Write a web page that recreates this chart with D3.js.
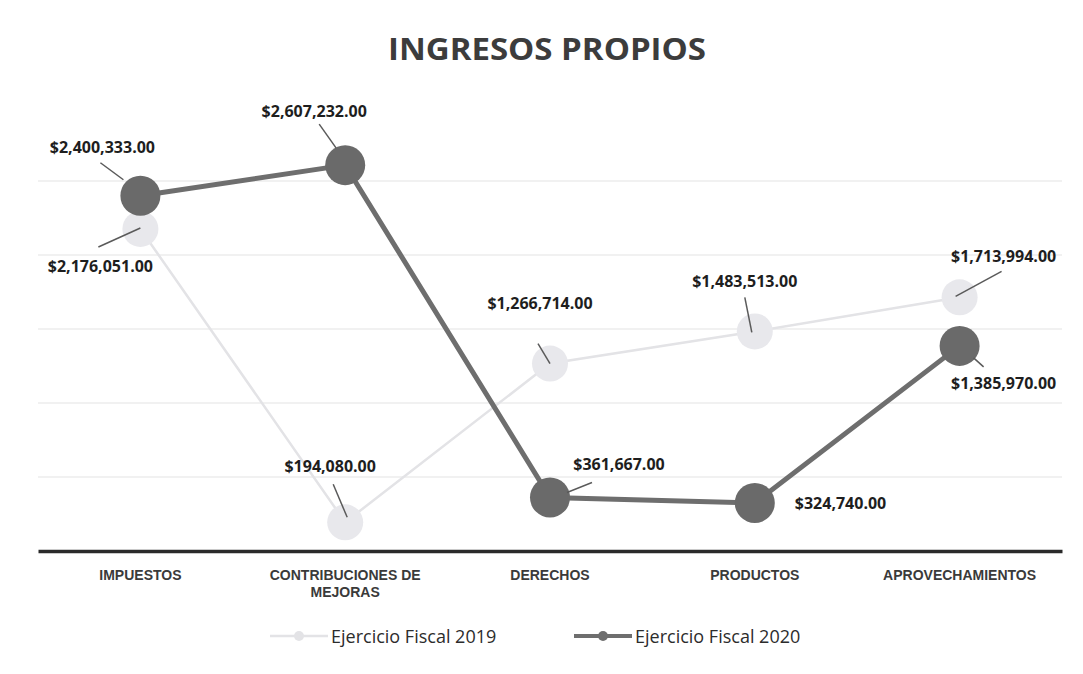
<!DOCTYPE html>
<html><head><meta charset="utf-8">
<script src="https://cdn.jsdelivr.net/npm/d3@7"></script>
<style>body{margin:0;background:#fff}svg{display:block}</style>
</head><body>
<svg id="c" width="1083" height="674"></svg>
<script>
const categories = ["IMPUESTOS", "CONTRIBUCIONES DE MEJORAS", "DERECHOS", "PRODUCTOS", "APROVECHAMIENTOS"];
const series2019 = [2176051, 194080, 1266714, 1483513, 1713994];
const series2020 = [2400333, 2607232, 361667, 324740, 1385970];
const seriesNames = ["Ejercicio Fiscal 2019", "Ejercicio Fiscal 2020"];
const yTicks = [0, 500000, 1000000, 1500000, 2000000, 2500000, 3000000];
const title = "INGRESOS PROPIOS";

// label placement (offsets relative to point): [labelDx, labelDy, anchor, lx1, ly1, lx2, ly2]
const lab2019 = [[-40, 37, "middle", -42, 18, 0, -1], [-15, -56, "middle", -12, -38, 2, -5], [-10, -61, "middle", -12, -20, 0, 0], [-10, -50, "middle", -10, -34, -3, 1], [44, -41, "middle", 42, -26, -4, -1]];
const lab2020 = [[-38, -49, "middle", -40, -33, -17, -16], [-31, -54, "middle", -26, -41, -9, -17], [69, -33, "middle", 42, -15, 17, -5], [40, 0, "start", 0, 0, 0, 0], [44, 37, "middle", 14, 12, 24, 21]];

const svg = d3.select("#c");
const W = 1083, H = 674;
const m = {left: 38, right: 21};
const x = d3.scaleBand().domain(categories).range([m.left, W - m.right]);
const y = d3.scaleLinear().domain([0, 3000000]).range([551, 107]);
const cx = d => x(d) + x.bandwidth() / 2;
const fmt = v => "$" + d3.format(",.2f")(v);

svg.append("rect").attr("width", W).attr("height", H).attr("fill", "#fff");

// gridlines
svg.append("g").selectAll("line").data(yTicks.slice(1, -1)).join("line")
  .attr("x1", m.left).attr("x2", W - m.right)
  .attr("y1", d => y(d)).attr("y2", d => y(d))
  .attr("stroke", "#e3e3e3").attr("stroke-width", 1.2);

// axis
const xAxis = svg.append("g").attr("transform", `translate(0,${y(0)})`).call(d3.axisBottom(x).tickSize(0).tickFormat(""));
xAxis.select(".domain").attr("stroke", "#2a2a2a").attr("stroke-width", 3.5);

// category labels
const catG = svg.append("g").attr("font-family", "'Liberation Sans Narrow', 'Liberation Sans', sans-serif")
  .attr("font-weight", "bold").attr("font-size", 14).attr("fill", "#3a3a3a").attr("text-anchor", "middle");
categories.forEach(c => {
  const lines = c === "CONTRIBUCIONES DE MEJORAS" ? ["CONTRIBUCIONES DE", "MEJORAS"] : [c];
  lines.forEach((l, i) => catG.append("text").attr("x", cx(c)).attr("y", 580 + i * 17).text(l));
});

// title
svg.append("text").attr("x", 388).attr("y", 60)
  .attr("font-family", "'Open Sans', sans-serif").attr("font-weight", "bold").attr("font-size", 30)
  .attr("textLength", 318).attr("lengthAdjust", "spacingAndGlyphs")
  .attr("fill", "#3c3c3c").text(title);

const line = d3.line().x((d, i) => cx(categories[i])).y(d => y(d));

// 2019 series
svg.append("path").datum(series2019).attr("d", line).attr("fill", "none").attr("stroke", "#e3e3e6").attr("stroke-width", 2.5);
svg.append("g").selectAll("circle").data(series2019).join("circle")
  .attr("cx", (d, i) => cx(categories[i])).attr("cy", d => y(d)).attr("r", 18)
  .attr("fill", "#e8e8ec");

// 2020 series
svg.append("path").datum(series2020).attr("d", line).attr("fill", "none").attr("stroke", "#6e6e6e").attr("stroke-width", 5);
svg.append("g").selectAll("circle").data(series2020).join("circle")
  .attr("cx", (d, i) => cx(categories[i])).attr("cy", d => y(d)).attr("r", 20)
  .attr("fill", "#6a6a6a");

// data labels
function labels(vals, pos) {
  const g = svg.append("g");
  vals.forEach((v, i) => {
    const px = cx(categories[i]), py = y(v);
    const p = pos[i];
    if (p[3] !== p[5] || p[4] !== p[6]) {
      g.append("line").attr("x1", px + p[3]).attr("y1", py + p[4]).attr("x2", px + p[5]).attr("y2", py + p[6])
        .attr("stroke", "#5a5a5a").attr("stroke-width", 1.5);
    }
    g.append("text").attr("x", px + p[0]).attr("y", py + p[1] + 6).attr("text-anchor", p[2])
      .attr("font-family", "'Open Sans', sans-serif").attr("font-weight", "bold").attr("font-size", 16)
      .attr("fill", "#1e1e1e").text(fmt(v));
  });
}
labels(series2019, lab2019);
labels(series2020, lab2020);

// legend
const lg = svg.append("g").attr("font-family", "'Open Sans', sans-serif").attr("font-size", 18).attr("fill", "#2c2c2c");
const legItems = [{name: seriesNames[0], x: 270, color: "#e3e3e6", w: 2.5, r: 5}, {name: seriesNames[1], x: 574, color: "#6e6e6e", w: 4, r: 5}];
legItems.forEach(it => {
  lg.append("line").attr("x1", it.x).attr("x2", it.x + 58).attr("y1", 636).attr("y2", 636).attr("stroke", it.color).attr("stroke-width", it.w);
  lg.append("circle").attr("cx", it.x + 29).attr("cy", 636).attr("r", it.r).attr("fill", it.color);
  lg.append("text").attr("x", it.x + 61).attr("y", 643).text(it.name);
});
</script>
</body></html>
